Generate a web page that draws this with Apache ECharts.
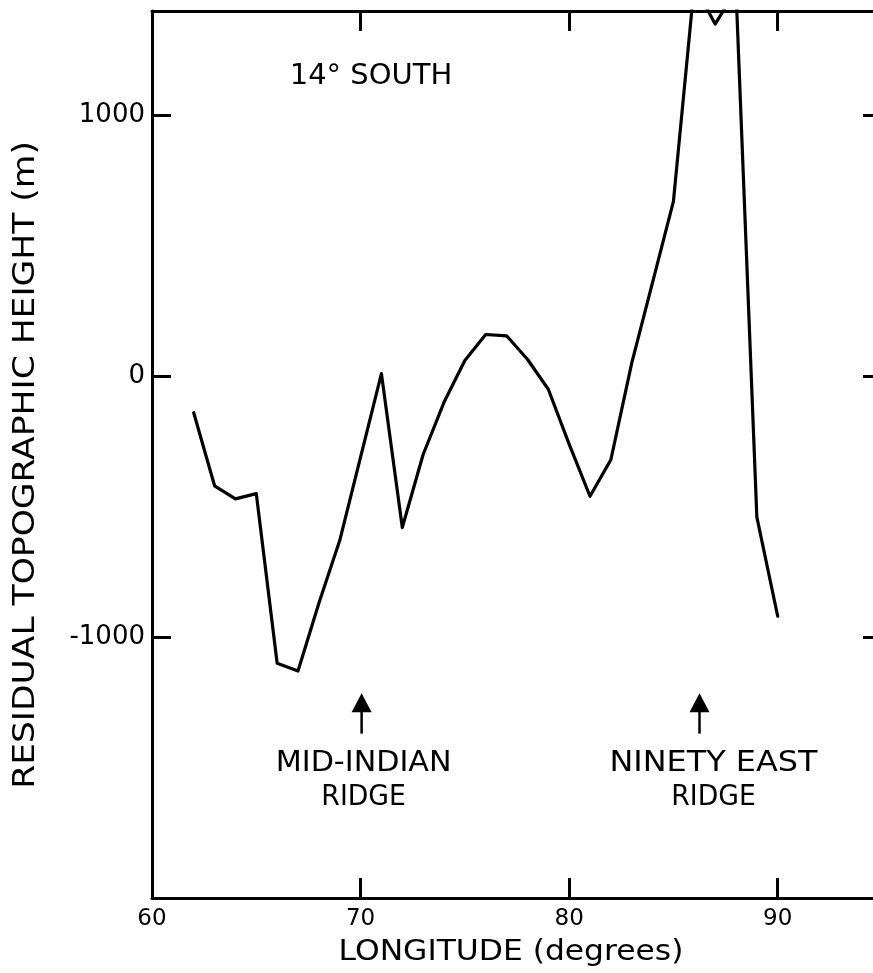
<!DOCTYPE html>
<html>
<head>
<meta charset="utf-8">
<script src="https://cdn.jsdelivr.net/npm/echarts@6/dist/echarts.min.js"></script>
<style>
  html, body { margin: 0; padding: 0; background: #fff; }
  #chart { width: 873px; height: 973px; }
</style>
</head>
<body>
<div id="chart"></div>
<script>
// Residual topographic height profile along 14° S
const longitudes = [62, 63, 64, 65, 66, 67, 68, 69, 70, 71, 72, 73, 74, 75, 76,
                    77, 78, 79, 80, 81, 82, 83, 84, 85, 86, 87, 88, 89, 90];
const heights = [-140, -420, -470, -450, -1100, -1130, -870, -630, -310, 10, -580, -300, -100, 60, 160,
                 155, 65, -50, -260, -460, -320, 50, 360, 670, 1500, 1350, 1480, -540, -920];
const xTickLabels = [60, 70, 80, 90];
const yTickLabels = [-1000, 0, 1000];
const ridgeLongitudes = [70.05, 86.25];
const ridgeNames = [['MID-INDIAN', 'RIDGE'], ['NINETY EAST', 'RIDGE']];
const sectionTitle = '14° SOUTH';

const FONT = '"DejaVu Sans", "Liberation Sans", sans-serif';
const INK = '#000';

const chart = echarts.init(document.getElementById('chart'), null, { renderer: 'canvas' });

const profile = longitudes.map((lon, i) => [lon, heights[i]]);

function xAxisDef(position, showLabels) {
  return {
    type: 'value', position: position, min: 60, max: 95, interval: 10,
    axisLine: { show: true, onZero: false, lineStyle: { color: INK, width: 3 } },
    axisTick: { show: true, inside: true, length: 20, lineStyle: { color: INK, width: 3 } },
    axisLabel: {
      show: showLabels, margin: 10, color: INK, fontSize: 23, fontFamily: FONT,
      formatter: v => (xTickLabels.includes(v) ? String(v) : '')
    },
    splitLine: { show: false }
  };
}
function yAxisDef(position, showLabels) {
  return {
    type: 'value', position: position, min: -2000, max: 1400, interval: 1000,
    axisLine: { show: true, onZero: false, lineStyle: { color: INK, width: 3 } },
    axisTick: { show: true, inside: true, length: 19, lineStyle: { color: INK, width: 3 } },
    axisLabel: {
      show: showLabels, margin: 7, color: INK, fontSize: 26, fontFamily: FONT,
      formatter: v => (yTickLabels.includes(v) ? String(v) : '')
    },
    splitLine: { show: false }
  };
}

chart.setOption({
  animation: false,
  backgroundColor: '#fff',
  // the frame runs a little past the right edge of the page
  grid: { left: 152, top: 11, width: 730, height: 887, containLabel: false, outerBoundsMode: 'none' },
  xAxis: [xAxisDef('bottom', true), xAxisDef('top', false)],
  yAxis: [yAxisDef('left', true), yAxisDef('right', false)],
  series: [{
    type: 'line',
    data: profile,
    showSymbol: false,
    symbol: 'none',
    clip: true,
    lineStyle: { color: INK, width: 3.2, join: 'round', cap: 'round' }
  }]
});

// Annotations: section title, ridge arrows and axis titles
const toPx = (lon, h) => chart.convertToPixel({ seriesIndex: 0 }, [lon, h]);
const graphics = [];

function label(text, x, y, size, extra) {
  return Object.assign({
    type: 'text', x: x, y: y, silent: true,
    style: { text: text, fontSize: size, fontFamily: FONT, fill: INK, align: 'center', verticalAlign: 'middle' }
  }, extra || {});
}

const titlePos = toPx(70.5, 1150);
graphics.push(label(sectionTitle, titlePos[0], titlePos[1], 29));

ridgeLongitudes.forEach((lon, i) => {
  const tip = toPx(lon, -1215);
  const base = toPx(lon, -1370);
  const x = tip[0];
  graphics.push({
    type: 'polygon', silent: true,
    shape: { points: [[x, tip[1]], [x - 10, tip[1] + 19], [x + 10, tip[1] + 19]] },
    style: { fill: INK }
  });
  graphics.push({
    type: 'line', silent: true,
    shape: { x1: x, y1: tip[1] + 12, x2: x, y2: base[1] },
    style: { stroke: INK, lineWidth: 2.5 }
  });
  const dx = i === 0 ? 2 : 14;
  graphics.push(label(ridgeNames[i][0], x + dx, tip[1] + 70, 29, { scaleX: i === 0 ? 1.04 : 1.1 }));
  graphics.push(label(ridgeNames[i][1], x + dx, tip[1] + 104, 29, { scaleX: 0.92 }));
});

graphics.push(label('LONGITUDE (degrees)', 511, 953, 28, { scaleX: 1.12 }));
graphics.push(label('RESIDUAL TOPOGRAPHIC HEIGHT (m)', 26, 465, 30, { rotation: Math.PI / 2, scaleX: 1.15 }));

chart.setOption({ graphic: { elements: graphics } });
</script>
</body>
</html>
